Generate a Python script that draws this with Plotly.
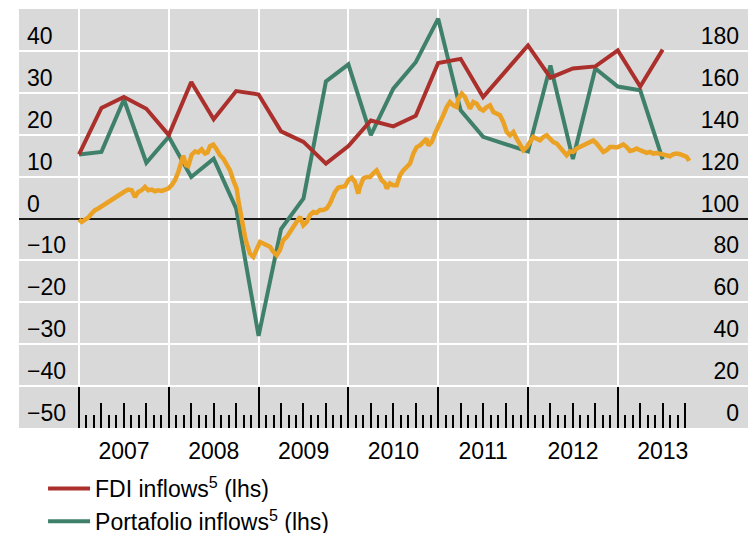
import plotly.graph_objects as go

# ---- data -----------------------------------------------------------------
# quarterly observations (decimal years, start of quarter)
quarter_t = [2007.00, 2007.25, 2007.50, 2007.75, 2008.00, 2008.25, 2008.50, 2008.75,
             2009.00, 2009.25, 2009.50, 2009.75, 2010.00, 2010.25, 2010.50, 2010.75,
             2011.00, 2011.25, 2011.50, 2011.75, 2012.00, 2012.25, 2012.50, 2012.75,
             2013.00, 2013.25, 2013.50]

fdi_inflows = [15.3, 26.4, 29.0, 26.2, 19.9, 32.6, 23.7, 30.4,
               29.6, 20.8, 18.3, 13.1, 17.3, 23.4, 22.0, 24.5,
               37.1, 38.1, 29.0, 35.0, 41.3, 33.6, 35.8, 36.3,
               40.1, 31.5, 40.3]

portfolio_inflows = [15.3, 15.9, 28.4, 13.3, 19.5, 9.9, 14.3, 2.4,
                     -28.0, -2.5, 4.8, 32.7, 36.8, 19.9, 31.0, 37.3,
                     47.7, 25.8, 19.5, 17.7, 16.0, 36.5, 14.2, 35.8,
                     31.5, 30.6, 14.1]

# higher-frequency index (rhs), decimal years
index_t = [
    2007.000, 2007.030, 2007.067, 2007.104, 2007.141, 2007.178, 2007.215, 2007.253,
    2007.290, 2007.326, 2007.364, 2007.401, 2007.438, 2007.476, 2007.512, 2007.549,
    2007.587, 2007.624, 2007.660, 2007.698, 2007.735, 2007.772, 2007.810, 2007.846,
    2007.883, 2007.921, 2007.958, 2007.994, 2008.032, 2008.069, 2008.106, 2008.144,
    2008.161, 2008.192, 2008.217, 2008.255, 2008.292, 2008.328, 2008.366, 2008.403,
    2008.431, 2008.459, 2008.496, 2008.533, 2008.570, 2008.607, 2008.645, 2008.682,
    2008.718, 2008.756, 2008.774, 2008.793, 2008.812, 2008.830, 2008.849, 2008.867,
    2008.904, 2008.941, 2008.979, 2009.016, 2009.052, 2009.090, 2009.127, 2009.164,
    2009.202, 2009.238, 2009.275, 2009.313, 2009.350, 2009.386, 2009.424, 2009.461,
    2009.498, 2009.536, 2009.572, 2009.609, 2009.647, 2009.684, 2009.720, 2009.758,
    2009.795, 2009.814, 2009.851, 2009.888, 2009.925, 2009.962, 2009.999, 2010.037,
    2010.073, 2010.092, 2010.110, 2010.129, 2010.166, 2010.204, 2010.241, 2010.277,
    2010.315, 2010.333, 2010.371, 2010.408, 2010.427, 2010.463, 2010.500, 2010.538,
    2010.575, 2010.611, 2010.649, 2010.686, 2010.723, 2010.761, 2010.797, 2010.834,
    2010.872, 2010.890, 2010.928, 2010.964, 2011.001, 2011.039, 2011.057, 2011.095,
    2011.131, 2011.168, 2011.206, 2011.224, 2011.262, 2011.298, 2011.335, 2011.354,
    2011.391, 2011.429, 2011.465, 2011.502, 2011.540, 2011.577, 2011.614, 2011.651,
    2011.688, 2011.725, 2011.763, 2011.800, 2011.837, 2011.874, 2011.911, 2011.948,
    2011.986, 2012.022, 2012.059, 2012.097, 2012.134, 2012.171, 2012.208, 2012.245,
    2012.282, 2012.320, 2012.356, 2012.393, 2012.431, 2012.468, 2012.504, 2012.542,
    2012.579, 2012.616, 2012.654, 2012.690, 2012.727, 2012.765, 2012.802, 2012.839,
    2012.876, 2012.913, 2012.950, 2012.988, 2013.024, 2013.061, 2013.099, 2013.136,
    2013.173, 2013.210, 2013.247, 2013.284, 2013.322, 2013.359, 2013.395, 2013.433,
    2013.470, 2013.507, 2013.545, 2013.581, 2013.618, 2013.656, 2013.693, 2013.729,
    2013.767, 2013.796,
]
index_v = [
    99.6, 98.4, 99.5, 100.5, 102.4, 104.0, 104.8, 105.9,
    107.2, 107.9, 108.7, 110.3, 111.1, 112.2, 113.0, 113.8,
    113.5, 110.3, 112.7, 113.5, 115.1, 113.5, 113.8, 113.0,
    113.5, 113.2, 113.5, 114.3, 115.9, 118.3, 122.2, 127.0,
    130.0, 125.5, 125.0, 130.5, 132.0, 131.5, 133.0, 131.0,
    131.5, 134.5, 135.3, 133.0, 130.2, 128.6, 126.2, 123.0,
    118.3, 114.3, 108.7, 104.0, 97.6, 94.4, 91.2, 88.1,
    83.3, 81.7, 84.9, 88.8, 88.1, 87.3, 86.5, 84.1,
    82.5, 84.9, 89.7, 91.2, 93.6, 96.0, 99.2, 100.8,
    96.8, 98.4, 101.6, 103.1, 102.7, 104.0, 104.0, 104.8,
    107.2, 109.5, 112.7, 114.8, 115.1, 115.4, 118.3, 119.5,
    117.5, 113.5, 111.9, 115.1, 119.1, 119.8, 119.8, 121.5,
    123.0, 121.5, 118.3, 116.7, 114.3, 116.7, 115.9, 115.9,
    120.6, 123.0, 124.6, 126.2, 131.0, 134.1, 134.9, 136.5,
    138.1, 134.9, 136.5, 140.5, 143.7, 146.9, 149.3, 153.2,
    155.6, 154.0, 153.2, 157.2, 159.6, 158.0, 154.0, 152.4,
    155.6, 154.8, 152.4, 151.6, 153.2, 154.0, 150.8, 150.1,
    149.3, 146.1, 141.3, 139.7, 141.3, 138.1, 134.9, 132.6,
    134.1, 136.5, 138.9, 138.1, 137.3, 138.9, 139.7, 138.1,
    136.5, 135.8, 134.1, 132.6, 130.2, 132.0, 131.8, 133.4,
    134.1, 134.9, 135.8, 136.5, 137.3, 135.8, 133.4, 131.8,
    132.6, 134.1, 134.1, 133.9, 134.5, 135.4, 134.1, 132.2,
    132.6, 133.4, 132.6, 131.8, 131.3, 131.8, 131.0, 131.3,
    131.0, 130.2, 130.2, 129.7, 130.7, 131.0, 130.7, 130.2,
    129.4, 127.5,
]

years = [2007, 2008, 2009, 2010, 2011, 2012, 2013]
year_labels = [str(y) for y in years]
lhs_ticks = [-50, -40, -30, -20, -10, 0, 10, 20, 30, 40]
rhs_ticks = [0, 20, 40, 60, 80, 100, 120, 140, 160, 180]

# ---- styling --------------------------------------------------------------
RED = "#ab302c"
GREEN = "#3f806b"
ORANGE = "#eba224"
PANEL = "#d9d9d9"
FONT = "Liberation Sans, Arial, Helvetica, sans-serif"
TICK_FONT = dict(family=FONT, size=23, color="black")
X_RANGE = [2006.332, 2014.45]

# axis tick positions along the time axis (last tick: Oct 2013)
month_ticks = [y + m / 12 for y in years for m in range(1, 12)
               if m % 3 != 0 and y + m / 12 <= 2013.76]
quarter_ticks = [y + q / 4 for y in years for q in range(1, 4)
                 if y + q / 4 <= 2013.76]

fig = go.Figure()

fig.add_trace(go.Scatter(
    x=quarter_t, y=portfolio_inflows, mode="lines",
    name="Portafolio inflows<sup>5</sup> (lhs)",
    line=dict(color=GREEN, width=4), legendrank=2,
))
fig.add_trace(go.Scatter(
    x=quarter_t, y=fdi_inflows, mode="lines",
    name="FDI inflows<sup>5</sup> (lhs)",
    line=dict(color=RED, width=4), legendrank=1,
))
fig.add_trace(go.Scatter(
    x=index_t, y=index_v, mode="lines", yaxis="y2",
    line=dict(color=ORANGE, width=4.5), showlegend=False,
))
# empty trace so that the quarter-tick axis gets drawn
fig.add_trace(go.Scatter(
    x=[], y=[], xaxis="x2", yaxis="y", showlegend=False, hoverinfo="skip",
))

fig.update_layout(
    width=748, height=533,
    margin=dict(l=19, r=0, t=9, b=105, autoexpand=False),
    paper_bgcolor="white", plot_bgcolor=PANEL,
    font=dict(family=FONT, size=22, color="black"),
    showlegend=True,
    legend=dict(
        x=0.033, y=-0.093, xanchor="left", yanchor="top",
        bgcolor="rgba(0,0,0,0)", font=dict(family=FONT, size=23, color="black"),
        itemwidth=42, tracegroupgap=0,
    ),
    xaxis=dict(
        range=X_RANGE, tickmode="array", tickvals=years, ticktext=year_labels,
        ticks="inside", ticklen=41, tickwidth=2, tickcolor="black",
        ticklabelshift=45, ticklabelstandoff=7, tickfont=TICK_FONT,
        showgrid=True, gridcolor="white", gridwidth=1.5,
        zeroline=False, showline=False,
        minor=dict(tickmode="array", tickvals=month_ticks, ticks="inside",
                   ticklen=13, tickwidth=2, tickcolor="black", showgrid=False),
    ),
    xaxis2=dict(
        range=X_RANGE, overlaying="x", anchor="y", side="bottom",
        tickmode="array", tickvals=quarter_ticks, ticks="inside",
        ticklen=25, tickwidth=2, tickcolor="black",
        showticklabels=False, showgrid=False, zeroline=False, showline=False,
    ),
    yaxis=dict(
        range=[-50, 50], tickmode="array", tickvals=lhs_ticks,
        ticks="", ticklabelposition="inside", ticklabelstandoff=5,
        ticklabelshift=-15, tickfont=TICK_FONT,
        showgrid=True, gridcolor="white", gridwidth=1.5,
        zeroline=True, zerolinecolor="#1a1a1a", zerolinewidth=2, showline=False,
    ),
    yaxis2=dict(
        range=[0, 200], overlaying="y", side="right", anchor="x",
        tickmode="array", tickvals=rhs_ticks,
        ticks="", ticklabelposition="inside", ticklabelstandoff=6,
        ticklabelshift=-15, tickfont=TICK_FONT,
        showgrid=False, zeroline=False, showline=False,
    ),
)

fig.write_html("out.html")
